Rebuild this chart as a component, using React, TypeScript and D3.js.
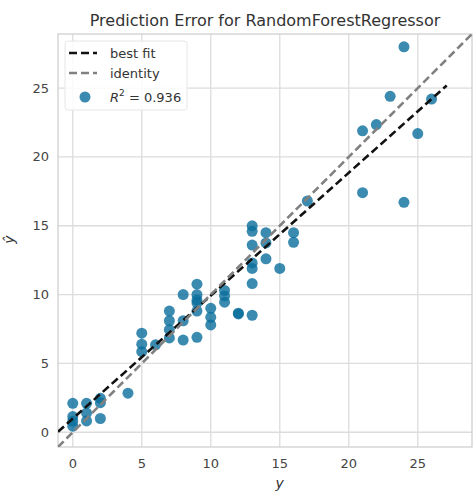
import * as React from "react";
import { useRef, useEffect } from "react";
import * as d3 from "d3";

const actual = [
  0, 0, 0, 0, 1, 1, 1, 2, 2, 2, 4,
  5, 5, 5, 6, 7, 7, 7, 7, 8, 8, 8,
  9, 9, 9, 9, 9, 9, 10, 10, 10, 11, 11, 11, 12, 12,
  13, 13, 13, 13, 13, 13, 13, 14, 14, 14, 15, 16, 16, 17,
  21, 21, 22, 23, 24, 24, 25, 26,
];
const predicted = [
  2.1, 1.14, 0.8, 0.44, 2.1, 1.4, 0.82, 2.47, 2.15, 1.0, 2.84,
  7.2, 6.4, 5.85, 6.35, 8.8, 8.1, 7.45, 6.85, 10.0, 8.1, 6.7,
  10.76, 9.99, 9.6, 9.4, 8.8, 6.9, 9.0, 8.35, 7.8, 10.3, 9.9, 9.45, 8.65, 8.6,
  15.0, 14.6, 13.6, 12.3, 11.9, 10.8, 8.5, 14.5, 13.75, 12.6, 11.9, 14.5, 13.8, 16.8,
  21.9, 17.4, 22.35, 24.4, 28.0, 16.7, 21.7, 24.2,
];
const r2 = 0.936;
const bestFit = { intercept: 0.99, slope: 0.893, xEnd: 27.1 };
const limits = [-1.07, 28.93];
const ticks = [0, 5, 10, 15, 20, 25];
const chartTitle = "Prediction Error for RandomForestRegressor";

const App = () => {
  const _ref = useRef(null);
  useEffect(() => {
    document.body.style.margin = "0";
    document.body.style.overflow = "hidden";
    const node = _ref.current;
    node.innerHTML = "";
    const W = 473;
    const H = 498;
    const margin = { top: 34, right: 1, bottom: 51, left: 58 };
    const width = W - margin.left - margin.right;
    const height = H - margin.top - margin.bottom;
    const font = "DejaVu Sans, sans-serif";

    const svg = d3
      .select(node)
      .append("svg")
      .attr("width", W)
      .attr("height", H)
      .style("display", "block")
      .style("background", "#fff");

    const x = d3.scaleLinear().domain(limits).range([0, width]);
    const y = d3.scaleLinear().domain(limits).range([height, 0]);

    const g = svg.append("g").attr("transform", `translate(${margin.left},${margin.top})`);

    // grid
    g.selectAll(".gx")
      .data(ticks)
      .join("line")
      .attr("x1", (d) => x(d))
      .attr("x2", (d) => x(d))
      .attr("y1", 0)
      .attr("y2", height)
      .attr("stroke", "#dcdcdc")
      .attr("stroke-width", 1.3);
    g.selectAll(".gy")
      .data(ticks)
      .join("line")
      .attr("y1", (d) => y(d))
      .attr("y2", (d) => y(d))
      .attr("x1", 0)
      .attr("x2", width)
      .attr("stroke", "#dcdcdc")
      .attr("stroke-width", 1.3);

    g.append("rect")
      .attr("width", width)
      .attr("height", height)
      .attr("fill", "none")
      .attr("stroke", "#d0d0d0")
      .attr("stroke-width", 1.3);

    // tick labels
    g.selectAll(".tx")
      .data(ticks)
      .join("text")
      .attr("x", (d) => x(d))
      .attr("y", height + 21)
      .attr("text-anchor", "middle")
      .attr("font-family", font)
      .attr("font-size", 13)
      .attr("fill", "#444")
      .text((d) => d);
    g.selectAll(".ty")
      .data(ticks)
      .join("text")
      .attr("x", -9)
      .attr("y", (d) => y(d))
      .attr("dy", "0.35em")
      .attr("text-anchor", "end")
      .attr("font-family", font)
      .attr("font-size", 13)
      .attr("fill", "#444")
      .text((d) => d);

    const clip = svg.append("clipPath").attr("id", "plotclip");
    clip.append("rect").attr("width", width).attr("height", height);
    const plot = g.append("g").attr("clip-path", "url(#plotclip)");

    // points
    plot
      .selectAll("circle")
      .data(actual.map((a, i) => [a, predicted[i]]))
      .join("circle")
      .attr("cx", (d) => x(d[0]))
      .attr("cy", (d) => y(d[1]))
      .attr("r", 5.5)
      .attr("fill", "#0a6e9c")
      .attr("fill-opacity", 0.8);

    const line = d3
      .line()
      .x((d) => x(d[0]))
      .y((d) => y(d[1]));

    // best fit
    plot
      .append("path")
      .datum([limits[0], bestFit.xEnd].map((v) => [v, bestFit.intercept + bestFit.slope * v]))
      .attr("d", line)
      .attr("fill", "none")
      .attr("stroke", "#111")
      .attr("stroke-width", 2.6)
      .attr("stroke-dasharray", "8,4");

    // identity
    plot
      .append("path")
      .datum([limits, limits].map((l, i) => [l[i], l[i]]))
      .attr("d", line)
      .attr("fill", "none")
      .attr("stroke", "#808080")
      .attr("stroke-width", 2.6)
      .attr("stroke-dasharray", "8,4");

    // title and axis labels
    svg
      .append("text")
      .attr("x", margin.left + width / 2)
      .attr("y", 26)
      .attr("text-anchor", "middle")
      .attr("font-family", font)
      .attr("font-size", 16)
      .attr("fill", "#333")
      .text(chartTitle);
    svg
      .append("text")
      .attr("x", margin.left + x(15))
      .attr("y", 488)
      .attr("text-anchor", "middle")
      .attr("font-family", font)
      .attr("font-size", 14)
      .attr("font-style", "italic")
      .attr("fill", "#333")
      .text("y");
    svg
      .append("text")
      .attr("transform", `translate(14,${margin.top + y(14)}) rotate(-90)`)
      .attr("text-anchor", "middle")
      .attr("font-family", font)
      .attr("font-size", 14)
      .attr("font-style", "italic")
      .attr("fill", "#333")
      .text("\u0177");

    // legend
    const lg = g.append("g").attr("transform", "translate(7,7)");
    lg.append("rect")
      .attr("width", 122)
      .attr("height", 69)
      .attr("rx", 3)
      .attr("fill", "#fff")
      .attr("fill-opacity", 0.85)
      .attr("stroke", "#e6e6e6");
    const items = [
      { label: "best fit", color: "#111" },
      { label: "identity", color: "#808080" },
    ];
    items.forEach((it, i) => {
      const yy = 12 + i * 20;
      lg.append("line")
        .attr("x1", 4)
        .attr("x2", 32)
        .attr("y1", yy)
        .attr("y2", yy)
        .attr("stroke", it.color)
        .attr("stroke-width", 2.6)
        .attr("stroke-dasharray", "8,4");
      lg.append("text")
        .attr("x", 45)
        .attr("y", yy)
        .attr("dy", "0.35em")
        .attr("font-family", font)
        .attr("font-size", 13)
        .attr("fill", "#333")
        .text(it.label);
    });
    lg.append("circle")
      .attr("cx", 20)
      .attr("cy", 56)
      .attr("r", 5.5)
      .attr("fill", "#0a6e9c")
      .attr("fill-opacity", 0.8);
    const rt = lg
      .append("text")
      .attr("x", 45)
      .attr("y", 56)
      .attr("dy", "0.35em")
      .attr("font-family", font)
      .attr("font-size", 13)
      .attr("fill", "#333");
    rt.append("tspan").attr("font-style", "italic").text("R");
    rt.append("tspan").attr("font-size", 9).attr("dy", "-0.6em").text("2");
    rt.append("tspan").attr("dy", "0.45em").text(` = ${r2}`);
  }, []);

  return <div ref={_ref}></div>;
};

export default App;
